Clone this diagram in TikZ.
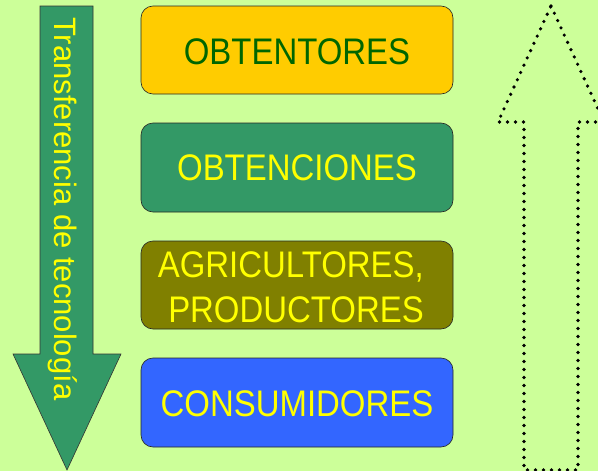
\documentclass[tikz,border=0pt]{standalone}
\usepackage{fontspec}
\setmainfont{Liberation Sans}
\newfontfamily\boxfont[FakeStretch=0.89]{Liberation Sans}
\definecolor{bg}{HTML}{CCFF99}
\definecolor{seagreen}{HTML}{339966}
\definecolor{gold}{HTML}{FFCC00}
\definecolor{darkgreen}{HTML}{006600}
\definecolor{olive}{HTML}{808000}
\definecolor{royal}{HTML}{3366FF}
\definecolor{yel}{HTML}{FFFF00}
\tikzset{
  rbox/.style={draw=black!85, line width=0.6pt, rounded corners=12pt},
  boxtext/.style={font=\boxfont\fontsize{37}{45}\selectfont, inner sep=0pt},
  dotline/.style={line width=3.6pt, line cap=round, dash pattern=on 0pt off 8pt},
}
\begin{document}
\begin{tikzpicture}[x=1pt,y=-1pt]
\fill[bg] (0,0) rectangle (598,471);
\useasboundingbox (0,0) rectangle (598,471);
% green arrow
\draw[fill=seagreen, draw=black!80, line width=0.6pt]
  (40,6) -- (93,6) -- (93,354) -- (121,354) -- (67,470) -- (13,354) -- (40,354) -- cycle;
\node[rotate=-90, anchor=base west, inner sep=0pt, text=yel, font=\fontsize{31}{37}\selectfont] (tt) at (54,17) {Transferencia de tecnología};
% boxes
\draw[rbox, fill=gold] (141,6) rectangle (453,94);
\node[boxtext, text=darkgreen] (b1) at (297,51.5) {OBTENTORES};
\draw[rbox, fill=seagreen] (141,123) rectangle (453,212);
\node[boxtext, text=yel] (b2) at (297,168) {OBTENCIONES};
\draw[rbox, fill=olive] (141,241) rectangle (453,329);
\node[boxtext, text=yel, anchor=base east] (b3a) at (424,277) {AGRICULTORES,};
\node[boxtext, text=yel, anchor=base east] (b3b) at (424,322) {PRODUCTORES};
\draw[rbox, fill=royal] (141,358) rectangle (453,447);
\node[boxtext, text=yel] (b4) at (297,403.5) {CONSUMIDORES};
% dotted arrow
\draw[dotline] (551,6) -- (604,122) -- (578,122) -- (578,470) -- (524,470) -- (524,122) -- (498,122) -- cycle;
\end{tikzpicture}
\end{document}
